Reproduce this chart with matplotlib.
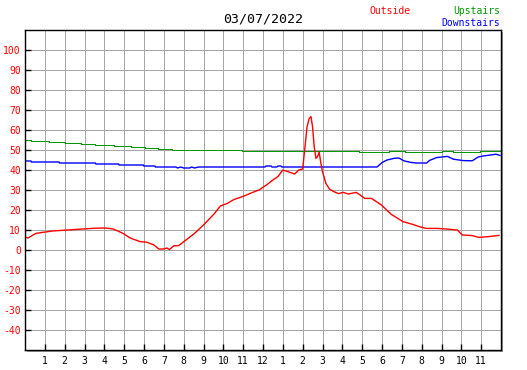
import matplotlib
matplotlib.use('Agg')
import matplotlib.pyplot as plt
from matplotlib.patches import Rectangle

plt.rcParams['font.family'] = 'DejaVu Sans Mono'
plt.rcParams['axes.unicode_minus'] = False

title = '03/07/2022'

# Outside temperature (red)
out_hours = [0.0, 0.15, 0.55, 0.95, 1.4, 2.0, 2.75, 3.55, 4.05, 4.45, 4.75, 5.0, 5.3,
             5.8, 6.15, 6.5, 6.75, 7.0, 7.15, 7.28, 7.5, 7.75, 8.05, 8.55, 9.05, 9.55,
             9.85, 10.2, 10.55, 11.05, 11.45, 11.8, 12.2, 12.5, 12.75, 13.0, 13.25,
             13.6, 13.8, 14.0, 14.08, 14.22, 14.33, 14.42, 14.5, 14.58, 14.67, 14.75,
             14.83, 14.92, 15.0, 15.17, 15.35, 15.55, 15.8, 16.05, 16.3, 16.7, 16.9,
             17.13, 17.47, 17.97, 18.47, 18.8, 19.05, 19.55, 19.88, 20.22, 20.8, 21.22,
             21.8, 22.05, 22.55, 22.88, 23.38, 23.9]
out_temps = [6.5, 6.0, 8.3, 8.9, 9.5, 9.9, 10.4, 10.9, 11.0, 10.5, 9.2, 8.0, 6.0,
             4.2, 3.9, 2.5, 0.5, 0.5, 1.0, 0.2, 2.1, 2.2, 4.5, 8.3, 13.0, 18.2,
             22.0, 23.3, 25.3, 27.0, 28.7, 30.0, 32.7, 35.0, 36.7, 40.0, 39.2,
             38.0, 40.0, 40.5, 48.0, 61.5, 65.8, 66.7, 61.5, 51.7, 45.8, 46.7,
             49.0, 43.3, 39.2, 33.3, 30.5, 29.3, 28.2, 28.8, 28.0, 28.8, 27.5,
             25.8, 25.8, 22.5, 17.8, 15.8, 14.2, 12.8, 11.7, 10.8, 10.8, 10.5,
             10.0, 7.5, 7.2, 6.3, 6.7, 7.3]

# Upstairs temperature (green), step changes
up_hours = [0.0, 0.3, 1.2, 2.0, 2.8, 3.55, 4.5, 5.35, 6.05, 6.7, 7.4, 10.95,
            16.83, 18.33, 19.17, 21.0, 21.58, 22.92, 23.95]
up_temps = [55.0, 54.5, 54.0, 53.5, 53.0, 52.5, 52.0, 51.5, 51.0, 50.5, 50.0, 49.5,
            49.0, 49.5, 49.0, 49.5, 49.0, 49.5, 49.5]

# Downstairs temperature (blue)
down_hours = [0.0, 0.3, 0.32, 1.72, 1.74, 3.55, 3.57, 4.72, 4.74, 5.97, 5.99, 6.55,
              6.57, 7.6, 7.7, 7.85, 8.0, 8.3, 8.4, 8.55, 8.75, 12.1, 12.15, 12.4,
              12.45, 12.7, 12.75, 12.9, 12.95, 17.75, 18.0, 18.25, 18.6, 18.85, 19.1,
              19.45, 19.75, 20.25, 20.4, 20.75, 21.3, 21.6, 22.1, 22.55, 22.85, 23.1,
              23.4, 23.75, 23.95]
down_temps = [44.5, 44.5, 44.0, 44.0, 43.5, 43.5, 43.0, 43.0, 42.5, 42.5, 42.0, 42.0,
              41.5, 41.5, 41.0, 41.5, 41.0, 41.0, 41.5, 41.0, 41.5, 41.5, 42.0, 42.0,
              41.5, 41.5, 42.0, 42.0, 41.5, 41.5, 43.7, 45.0, 45.8, 46.0, 44.6,
              43.8, 43.5, 43.5, 44.8, 46.2, 46.8, 45.4, 44.7, 44.6, 46.5, 47.0,
              47.4, 47.9, 47.3]

x_ticks = list(range(1, 24))
x_labels = [str(h if h <= 12 else h - 12) for h in x_ticks]
y_ticks = list(range(-40, 101, 10))

W, H = 527, 370
px = 0.72  # one pixel in points at 100 dpi
fig = plt.figure(figsize=(W / 100, H / 100), dpi=100)
left, right, top, bottom = 25, 501, 30, 350
ax = fig.add_axes([left / W, 1 - bottom / H, (right - left) / W, (bottom - top) / H])

# drop shadow behind the plot frame
shadow = Rectangle(((left + 2) / W, 1 - (bottom + 2) / H), (right - left) / W, (bottom - top) / H,
                   transform=fig.transFigure, facecolor='#999999', edgecolor='none', zorder=-1)
fig.add_artist(shadow)

ax.set_xlim(0, 24)
ax.set_ylim(-50, 110)
ax.set_xticks(x_ticks)
ax.set_xticklabels(x_labels)
ax.set_yticks(y_ticks)
ax.tick_params(direction='in', length=4, width=px * 1.4, labelsize=7, color='black')
ax.tick_params(axis='y', labelcolor='red', pad=3)
ax.tick_params(axis='x', pad=4)
ax.grid(True, color='#a6a6a6', linewidth=px, antialiased=False)
ax.set_axisbelow(True)
for s in ax.spines.values():
    s.set_linewidth(px * 1.4)
    s.set_color('black')

ax.plot(up_hours, up_temps, color='#009900', lw=px, drawstyle='steps-post', antialiased=False)
ax.plot(down_hours, down_temps, color='#0000ff', lw=1.0)
ax.plot(out_hours, out_temps, color='#ff0000', lw=1.0)

fig.text(263 / W, 1 - 19 / H, title, ha='center', va='center', fontsize=9.5, color='black')
fig.text(390 / W, 1 - 11.5 / H, 'Outside', ha='center', va='center', fontsize=7, color='red')
fig.text(500 / W, 1 - 11.5 / H, 'Upstairs', ha='right', va='center', fontsize=7, color='#009900')
fig.text(500 / W, 1 - 23 / H, 'Downstairs', ha='right', va='center', fontsize=7, color='blue')

fig.savefig('out.png', dpi=100)
